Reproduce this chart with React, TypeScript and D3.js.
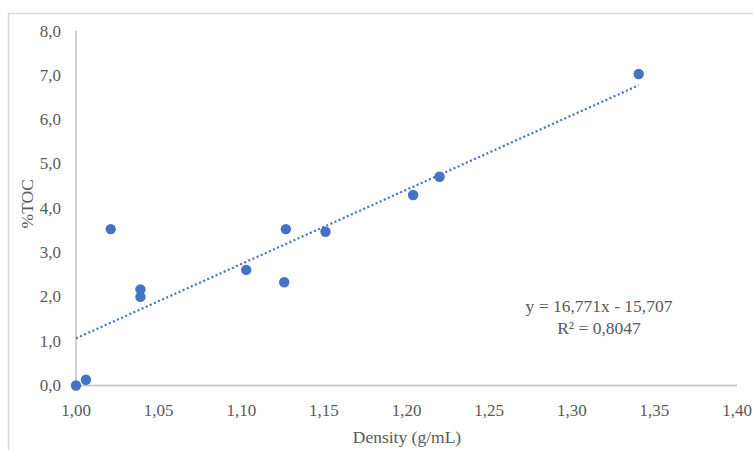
import React from "react";
import * as d3 from "d3";

const densities = [1.0, 1.006, 1.021, 1.039, 1.039, 1.103, 1.127, 1.126, 1.151, 1.204, 1.22, 1.3405];
const tocValues = [0.0, 0.13, 3.53, 2.17, 2.0, 2.61, 3.53, 2.33, 3.47, 4.3, 4.71, 7.03];
const xTicks = [1.0, 1.05, 1.1, 1.15, 1.2, 1.25, 1.3, 1.35, 1.4];
const yTicks = [0, 1, 2, 3, 4, 5, 6, 7, 8];
const slope = 16.771;
const intercept = -15.707;
const equationLines = ["y = 16,771x - 15,707", "R² = 0,8047"];

const W = 753;
const H = 450;
const FONT = "Liberation Serif, Times New Roman, DejaVu Serif, serif";
const BLUE = "#4472C4";
const TEXT = "#595959";

export default function App() {
  const x = d3.scaleLinear().domain([1.0, 1.4]).range([76, 737]);
  const y = d3.scaleLinear().domain([0, 8]).range([385.5, 31]);
  const fmt = (v: number, d: number) => v.toFixed(d).replace(".", ",");
  const xMin = d3.min(densities) as number;
  const xMax = d3.max(densities) as number;
  const line = d3.line<number>().x((d) => x(d)).y((d) => y(slope * d + intercept));

  return (
    <svg width={W} height={H} style={{ position: "absolute", left: 0, top: 0, background: "#fff", fontFamily: FONT }}>
      <rect x={8.5} y={13.5} width={W + 10} height={H + 10} fill="#fff" stroke="#D9D9D9" strokeWidth={1.5} />
      <line x1={x(1.0)} x2={x(1.0)} y1={y(8)} y2={y(0)} stroke="#BFBFBF" strokeWidth={1.5} />
      <line x1={x(1.0)} x2={x(1.4)} y1={y(0)} y2={y(0)} stroke="#BFBFBF" strokeWidth={1.5} />
      {yTicks.map((t) => (
        <text key={"y" + t} x={61} y={y(t) + 5.5} textAnchor="end" fontSize={17} fill={TEXT}>
          {fmt(t, 1)}
        </text>
      ))}
      {xTicks.map((t) => (
        <text key={"x" + t} x={x(t)} y={416} textAnchor="middle" fontSize={17} fill={TEXT}>
          {fmt(t, 2)}
        </text>
      ))}
      <text x={407} y={443} textAnchor="middle" fontSize={17.5} fill={TEXT}>
        Density (g/mL)
      </text>
      <text transform={`translate(33,${y(4.1)}) rotate(-90)`} textAnchor="middle" fontSize={17.5} fill={TEXT}>
        %TOC
      </text>
      <path d={line([xMin, xMax]) || ""} fill="none" stroke={BLUE} strokeWidth={2.2} strokeDasharray="2 2.5" />
      {densities.map((d, i) => (
        <circle key={i} cx={x(d)} cy={y(tocValues[i])} r={5.2} fill={BLUE} />
      ))}
      <text x={599} y={312} textAnchor="middle" fontSize={17.5} fill={TEXT}>
        {equationLines[0]}
      </text>
      <text x={599} y={334} textAnchor="middle" fontSize={17.5} fill={TEXT}>
        {equationLines[1]}
      </text>
    </svg>
  );
}
